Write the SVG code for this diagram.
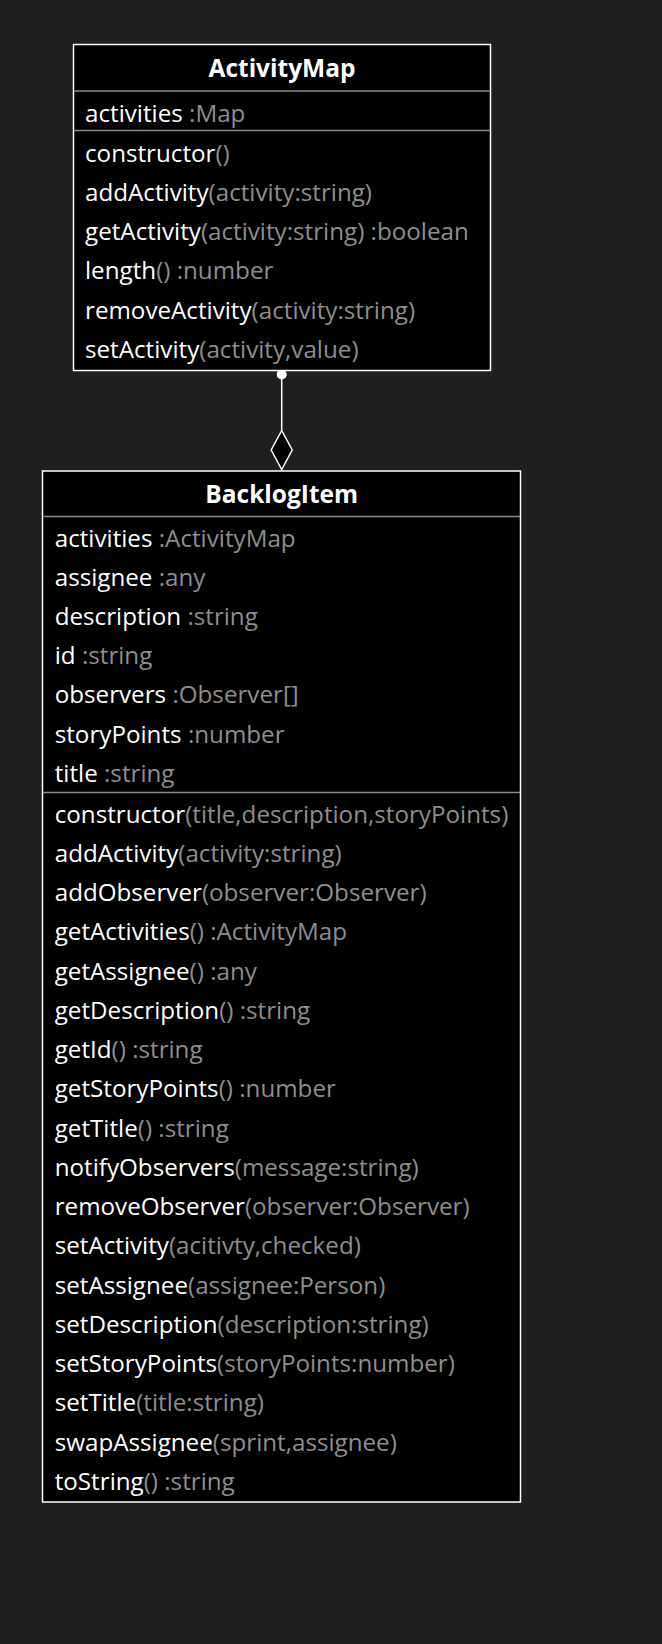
<svg xmlns="http://www.w3.org/2000/svg" width="662" height="1644" viewBox="0 0 662 1644">
<style>
text{font-family:"Open Sans","Noto Sans","Liberation Sans",sans-serif;font-size:24.2px;fill:#ffffff}
.t{font-weight:bold;text-anchor:middle;font-size:24.5px}
.g{fill:#8e8e8e}
.box{fill:#000000;stroke:#ffffff;stroke-width:1.5}
.sep{stroke:#8a8a8a;stroke-width:1.5}
.edge{stroke:#ffffff;stroke-width:1.5;fill:none}
</style>
<rect x="0" y="0" width="662" height="1644" fill="#1f1f1f"/>
<g id="connectors">
<line class="edge" x1="281.7" y1="374" x2="281.7" y2="430.5"/>
<circle cx="281.7" cy="374.5" r="5" fill="#ffffff"/>
<polygon points="281.7,430.5 292.2,450 281.7,469.5 271.2,450" fill="#000000" stroke="#ffffff" stroke-width="1.5"/>
</g>
<g id="ActivityMap">
<rect class="box" x="73.5" y="44.5" width="417" height="326"/>
<line class="sep" x1="74" y1="91" x2="490" y2="91"/>
<line class="sep" x1="74" y1="130.5" x2="490" y2="130.5"/>
<text class="t" x="282" y="76.7">ActivityMap</text>
<text x="85" y="121.7">activities <tspan class="g">:Map</tspan></text>
<text x="85" y="161.7">constructor<tspan class="g">()</tspan></text>
<text x="85" y="200.9">addActivity<tspan class="g">(activity:string)</tspan></text>
<text x="85" y="240.1">getActivity<tspan class="g">(activity:string) :boolean</tspan></text>
<text x="85" y="279.3">length<tspan class="g">() :number</tspan></text>
<text x="85" y="318.5">removeActivity<tspan class="g">(activity:string)</tspan></text>
<text x="85" y="357.7">setActivity<tspan class="g">(activity,value)</tspan></text>
</g>
<g id="BacklogItem">
<rect class="box" x="42.5" y="471" width="478" height="1031"/>
<line class="sep" x1="43" y1="516.5" x2="520" y2="516.5"/>
<line class="sep" x1="43" y1="792.5" x2="520" y2="792.5"/>
<text class="t" x="281.7" y="503">BacklogItem</text>
<text x="54.7" y="546.7">activities <tspan class="g">:ActivityMap</tspan></text>
<text x="54.7" y="585.9">assignee <tspan class="g">:any</tspan></text>
<text x="54.7" y="625.0">description <tspan class="g">:string</tspan></text>
<text x="54.7" y="664.2">id <tspan class="g">:string</tspan></text>
<text x="54.7" y="703.4">observers <tspan class="g">:Observer[]</tspan></text>
<text x="54.7" y="742.5">storyPoints <tspan class="g">:number</tspan></text>
<text x="54.7" y="781.7">title <tspan class="g">:string</tspan></text>
<text x="54.7" y="822.7">constructor<tspan class="g">(title,description,storyPoints)</tspan></text>
<text x="54.7" y="861.95">addActivity<tspan class="g">(activity:string)</tspan></text>
<text x="54.7" y="901.2">addObserver<tspan class="g">(observer:Observer)</tspan></text>
<text x="54.7" y="940.45">getActivities<tspan class="g">() :ActivityMap</tspan></text>
<text x="54.7" y="979.7">getAssignee<tspan class="g">() :any</tspan></text>
<text x="54.7" y="1018.95">getDescription<tspan class="g">() :string</tspan></text>
<text x="54.7" y="1058.2">getId<tspan class="g">() :string</tspan></text>
<text x="54.7" y="1097.45">getStoryPoints<tspan class="g">() :number</tspan></text>
<text x="54.7" y="1136.7">getTitle<tspan class="g">() :string</tspan></text>
<text x="54.7" y="1175.95">notifyObservers<tspan class="g">(message:string)</tspan></text>
<text x="54.7" y="1215.2">removeObserver<tspan class="g">(observer:Observer)</tspan></text>
<text x="54.7" y="1254.45">setActivity<tspan class="g">(acitivty,checked)</tspan></text>
<text x="54.7" y="1293.7">setAssignee<tspan class="g">(assignee:Person)</tspan></text>
<text x="54.7" y="1332.95">setDescription<tspan class="g">(description:string)</tspan></text>
<text x="54.7" y="1372.2">setStoryPoints<tspan class="g">(storyPoints:number)</tspan></text>
<text x="54.7" y="1411.45">setTitle<tspan class="g">(title:string)</tspan></text>
<text x="54.7" y="1450.7">swapAssignee<tspan class="g">(sprint,assignee)</tspan></text>
<text x="54.7" y="1489.95">toString<tspan class="g">() :string</tspan></text>
</g>
</svg>
